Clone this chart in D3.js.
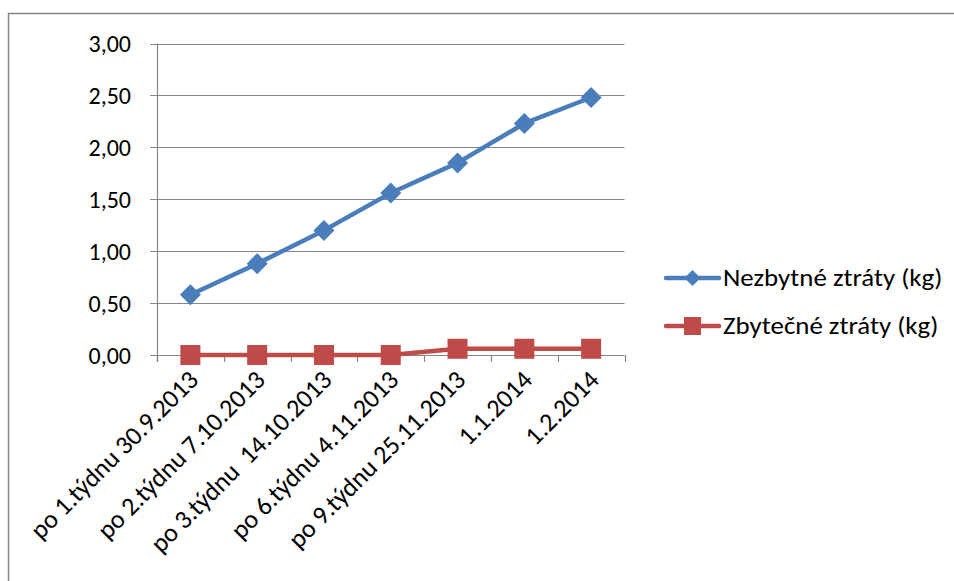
<!DOCTYPE html>
<html><head><meta charset="utf-8">
<script src="https://cdn.jsdelivr.net/npm/d3@7"></script>
<style>
html,body{margin:0;padding:0;background:#fff;}
text{font-family:Carlito,Calibri,"Liberation Sans",Arial,sans-serif;fill:#000;}
</style></head>
<body>
<svg id="c" width="954" height="581"></svg>
<script>
const categories = ["po 1.týdnu 30.9.2013","po 2.týdnu 7.10.2013","po 3.týdnu  14.10.2013","po 6.týdnu 4.11.2013","po 9.týdnu 25.11.2013","1.1.2014","1.2.2014"];
const nezbytne = [0.58, 0.88, 1.20, 1.56, 1.85, 2.23, 2.48];
const zbytecne = [0.00, 0.00, 0.00, 0.00, 0.06, 0.06, 0.06];
const yTicks = [0, 0.5, 1, 1.5, 2, 2.5, 3];
const seriesNames = ["Nezbytné ztráty (kg)", "Zbytečné ztráty (kg)"];
const colors = ["#4A7EBB", "#BE4B48"];

const svg = d3.select("#c");
// outer frame
svg.append("rect").attr("x",8.5).attr("y",13.5).attr("width",1200).attr("height",1200)
  .attr("fill","none").attr("stroke","#868686").attr("stroke-width",1.5);

const L=157, R=624.5, T=43.5, B=355;
const x = d3.scaleBand().domain(categories).range([L,R]);
const y = d3.scaleLinear().domain([0,3]).range([B,T]);
const fmt = v => d3.format(".2f")(v).replace(".", ",");

// gridlines
svg.append("g").selectAll("line").data(yTicks).join("line")
  .attr("x1",L-7).attr("x2",R).attr("y1",d=>Math.round(y(d))+0.5).attr("y2",d=>Math.round(y(d))+0.5)
  .attr("stroke","#868686").attr("stroke-width",1.2);
// y axis line
svg.append("line").attr("x1",L+0.5).attr("x2",L+0.5).attr("y1",T).attr("y2",B+7)
  .attr("stroke","#868686").attr("stroke-width",1.2);
// x ticks
const bounds = categories.map(c=>x(c)).concat([R]);
svg.append("g").selectAll("line").data(bounds).join("line")
  .attr("x1",d=>Math.round(d)+0.5).attr("x2",d=>Math.round(d)+0.5).attr("y1",B).attr("y2",B+7)
  .attr("stroke","#868686").attr("stroke-width",1.2);
// y labels
svg.append("g").selectAll("text").data(yTicks).join("text")
  .attr("x",131).attr("y",d=>y(d)).attr("dy","0.36em").attr("text-anchor","end")
  .style("font-size","24px").text(fmt);
// x labels
svg.append("g").selectAll("text").data(categories).join("text")
  .attr("transform",d=>`translate(${x(d)+x.bandwidth()/2+3},${B+20}) rotate(-45)`)
  .attr("text-anchor","end").attr("dy","0.35em").style("font-size","26px")
  .attr("xml:space","preserve").style("white-space","pre").text(d=>d);

const cx = d => x(d)+x.bandwidth()/2;
const line = d3.line().x((d,i)=>cx(categories[i])).y(d=>y(d));
const diamond = (s) => `M0,${-s}L${s},0L0,${s}L${-s},0Z`;

// red series
svg.append("path").datum(zbytecne).attr("d",line).attr("fill","none")
  .attr("stroke",colors[1]).attr("stroke-width",4.5).attr("stroke-linejoin","round");
svg.append("g").selectAll("rect").data(zbytecne).join("rect")
  .attr("x",(d,i)=>cx(categories[i])-10).attr("y",d=>y(d)-10).attr("width",20).attr("height",20)
  .attr("fill",colors[1]);
// blue series
svg.append("path").datum(nezbytne).attr("d",line).attr("fill","none")
  .attr("stroke",colors[0]).attr("stroke-width",4.5).attr("stroke-linejoin","round");
svg.append("g").selectAll("path").data(nezbytne).join("path")
  .attr("transform",(d,i)=>`translate(${cx(categories[i])},${y(d)})`)
  .attr("d",diamond(10.5)).attr("fill",colors[0]);

// legend
const lg = svg.append("g");
const ly = [278, 326];
seriesNames.forEach((n,i)=>{
  lg.append("line").attr("x1",666).attr("x2",719).attr("y1",ly[i]).attr("y2",ly[i])
    .attr("stroke",colors[i]).attr("stroke-width",4.5).attr("stroke-linecap","round");
  if(i===0) lg.append("path").attr("transform",`translate(692.5,${ly[i]})`).attr("d",diamond(8)).attr("fill",colors[0]);
  else lg.append("rect").attr("x",684).attr("y",ly[i]-9).attr("width",17).attr("height",18).attr("fill",colors[1]);
  lg.append("text").attr("transform",`translate(723,${ly[i]}) scale(1.12,1)`).attr("dy","0.35em")
    .style("font-size","24px").text(n);
});
</script>
</body></html>
